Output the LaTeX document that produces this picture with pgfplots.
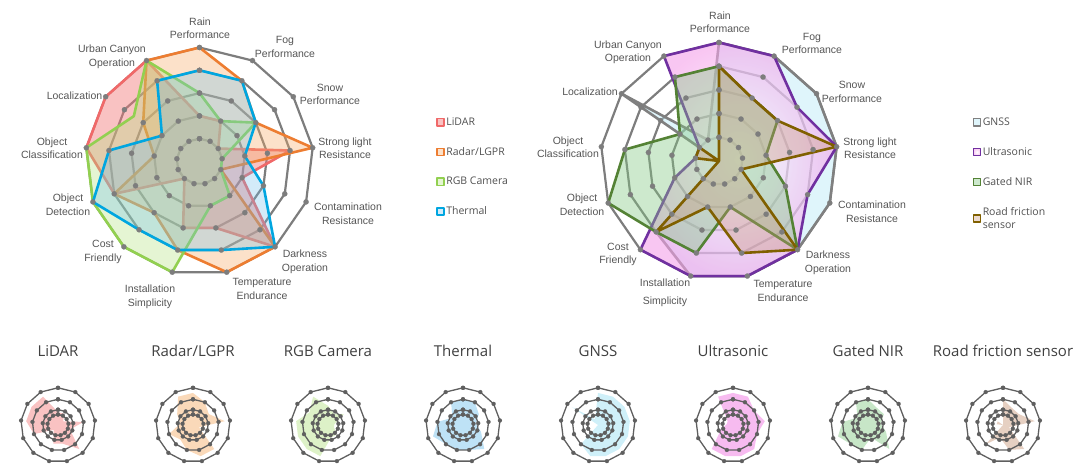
\documentclass[border=0pt]{standalone}
\usepackage{pgfplots}
\pgfplotsset{compat=1.18}
\usepackage{pgfplotstable}
\usepgfplotslibrary{polar}
\usepackage{fontspec}
\setmainfont{Liberation Sans}
\newfontfamily\legfont{Open Sans}

\definecolor{gridgray}{RGB}{125,125,125}
\definecolor{ringdark}{RGB}{95,95,95}
\definecolor{labgray}{RGB}{85,85,85}
\definecolor{leggray}{RGB}{80,80,80}
\definecolor{titgray}{RGB}{64,64,64}
\definecolor{lidarc}{RGB}{240,105,105}
\definecolor{lidarf}{RGB}{242,120,120}
\definecolor{radarc}{RGB}{237,125,49}
\definecolor{radarf}{RGB}{245,170,100}
\definecolor{rgbc}{RGB}{146,208,80}
\definecolor{rgbf}{RGB}{180,225,130}
\definecolor{thermc}{RGB}{0,166,224}
\definecolor{thermf}{RGB}{110,190,235}
\definecolor{gnssc}{RGB}{128,128,128}
\definecolor{gnssf}{RGB}{175,230,245}
\definecolor{ultrac}{RGB}{112,48,160}
\definecolor{ultraf}{RGB}{240,120,225}
\definecolor{nirc}{RGB}{84,130,53}
\definecolor{nirf}{RGB}{130,200,130}
\definecolor{roadc}{RGB}{128,96,0}
\definecolor{roadf}{RGB}{200,150,120}

% angle (deg) of each of the 13 criteria, clockwise from Rain; last row closes the polygon
\pgfplotstableread{
a        lidar radar rgb thermal gnss ultra nir road
90       2     5     3   4       5    5     4   4
62.3077  2     4     2   4       5    5     3   3
34.6154  1     3     3   3       5    4     3   3
6.9231   4     5     1   2       5    5     2   5
-20.7692 2     1     1   3       5    4     3   1
-48.4615 5     5     2   5       5    5     5   5
-76.1538 3     5     2   4       5    5     2   4
-103.8462 3    4     5   4       5    5     4   2
-131.5385 1    3     5   4       4    5     4   4
-159.2308 4    4     5   5       0    2     5   0
-186.9231 5    2     5   4       0    1     4   1
-214.6154 5    3     3.5 2       5    1     2   1
-242.3077 5    5     5   4       1    5     4   0
-270     2     5     3   4       5    5     4   4
}\sensordata

\pgfplotstableread{
a        r1 r2 r3 r4 r5 s1   s2   s3   s4
90       1  2  3  4  5  1.64 2.39 4.01 5.8
62.3077  1  2  3  4  5  1.64 2.39 4.01 5.8
34.6154  1  2  3  4  5  1.64 2.39 4.01 5.8
6.9231   1  2  3  4  5  1.64 2.39 4.01 5.8
-20.7692 1  2  3  4  5  1.64 2.39 4.01 5.8
-48.4615 1  2  3  4  5  1.64 2.39 4.01 5.8
-76.1538 1  2  3  4  5  1.64 2.39 4.01 5.8
-103.8462 1 2  3  4  5  1.64 2.39 4.01 5.8
-131.5385 1 2  3  4  5  1.64 2.39 4.01 5.8
-159.2308 1 2  3  4  5  1.64 2.39 4.01 5.8
-186.9231 1 2  3  4  5  1.64 2.39 4.01 5.8
-214.6154 1 2  3  4  5  1.64 2.39 4.01 5.8
-242.3077 1 2  3  4  5  1.64 2.39 4.01 5.8
-270     1  2  3  4  5  1.64 2.39 4.01 5.8
}\rings

\pgfplotsset{
  bigring/.style={draw=gridgray, line width=2.2pt, line join=round, mark=*, mark size=2.6pt,
    mark options={fill=gridgray, draw=gridgray, line width=0.2pt}, forget plot},
  smallring/.style={draw=ringdark, line width=1.3pt, line join=round, mark=*, mark size=2pt,
    mark options={fill=ringdark, draw=ringdark, line width=0.2pt}, forget plot},
  bigradar/.style={hide axis, clip=false, scale only axis, ymin=0, ymax=5, anchor=center},
  smallradar/.style={hide axis, clip=false, scale only axis, ymin=0, ymax=5.8, anchor=center,
    width=74.4pt, height=74.4pt,
    title style={font=\legfont\fontsize{15}{17}\selectfont, text=titgray, at={(0.5,1.30)}, anchor=center}},
  series/.style={line width=2.6pt, line join=round},
  sqlegend/.style={legend cell align=left,
    legend image code/.code={\draw[##1, line width=1.5pt] (0pt,-3.6pt) rectangle (7.2pt,3.6pt);},
    legend style={draw=none, fill=none, inner sep=0pt, row sep=17.5pt,
      font=\legfont\fontsize{10.5}{13}\selectfont, text=leggray,
      nodes={inner sep=1.5pt, align=left}}},
}

\tikzset{lab/.style={align=center, font=\fontsize{10.5}{13.5}\selectfont, text=labgray, inner sep=0pt}}

\begin{document}
\begin{tikzpicture}
\useasboundingbox (0pt,0pt) rectangle (1080pt,471pt);

% ---------------- left radar ----------------
\begin{polaraxis}[bigradar, at={(199.5pt,309.5pt)}, width=228pt, height=228pt, sqlegend,
  legend style={at={(1.537,0.70)}, anchor=north west}]
\addplot[bigring] table[x=a,y=r1]{\rings};
\addplot[bigring] table[x=a,y=r2]{\rings};
\addplot[bigring] table[x=a,y=r3]{\rings};
\addplot[bigring] table[x=a,y=r4]{\rings};
\addplot[bigring] table[x=a,y=r5]{\rings};
\addplot[series, draw=lidarc, fill=lidarf, fill opacity=0.45] table[x=a,y=lidar]{\sensordata};
\addlegendentry{LiDAR}
\addplot[series, draw=radarc, fill=radarf, fill opacity=0.35] table[x=a,y=radar]{\sensordata};
\addlegendentry{Radar/LGPR}
\addplot[series, draw=rgbc, fill=rgbf, fill opacity=0.35] table[x=a,y=rgb]{\sensordata};
\addlegendentry{RGB Camera}
\addplot[series, draw=thermc, fill=thermf, fill opacity=0.30] table[x=a,y=thermal]{\sensordata};
\addlegendentry{Thermal}
\end{polaraxis}

\node[lab] at (200pt,442.5pt) {Rain\\Performance};
\node[lab] at (285pt,424pt) {Fog\\Performance};
\node[lab] at (330pt,376.5pt) {Snow\\Performance};
\node[lab] at (345pt,322.5pt) {Strong light\\Resistance};
\node[lab] at (348pt,257pt) {Contamination\\Resistance};
\node[lab] at (305pt,209pt) {Darkness\\Operation};
\node[lab] at (262pt,182pt) {Temperature\\Endurance};
\node[lab] at (150pt,174pt) {Installation\\Simplicity};
\node[lab] at (103pt,219pt) {Cost\\Friendly};
\node[lab] at (68pt,266pt) {Object\\Detection};
\node[lab] at (52pt,322.5pt) {Object\\Classification};
\node[lab] at (74.5pt,375pt) {Localization};
\node[lab] at (112pt,414pt) {Urban Canyon\\Operation};

% ---------------- right radar ----------------
\begin{polaraxis}[bigradar, at={(719pt,310pt)}, width=237pt, height=237pt, sqlegend,
  legend style={at={(1.569,0.69)}, anchor=north west}]
\addplot[bigring] table[x=a,y=r1]{\rings};
\addplot[bigring] table[x=a,y=r2]{\rings};
\addplot[bigring] table[x=a,y=r3]{\rings};
\addplot[bigring] table[x=a,y=r4]{\rings};
\addplot[bigring] table[x=a,y=r5]{\rings};
\addplot[series, draw=gnssc, fill=gnssf, fill opacity=0.40] table[x=a,y=gnss]{\sensordata};
\addlegendentry{GNSS}
\addplot[series, draw=ultrac, shade, inner color=white, outer color=ultraf!70, fill opacity=0.6] table[x=a,y=ultra]{\sensordata};
\addlegendentry{Ultrasonic}
\addplot[series, draw=nirc, fill=nirf, fill opacity=0.40] table[x=a,y=nir]{\sensordata};
\addlegendentry{Gated NIR}
\addplot[series, draw=roadc, fill=roadf, fill opacity=0.35] table[x=a,y=road]{\sensordata};
\addlegendentry{Road friction\\sensor}
\end{polaraxis}

\node[lab] at (720pt,448.5pt) {Rain\\Performance};
\node[lab] at (812pt,427.5pt) {Fog\\Performance};
\node[lab] at (852pt,379pt) {Snow\\Performance};
\node[lab] at (870pt,322.5pt) {Strong light\\Resistance};
\node[lab] at (872pt,259pt) {Contamination\\Resistance};
\node[lab] at (828pt,208pt) {Darkness\\Operation};
\node[lab] at (783pt,180pt) {Temperature\\Endurance};
\node[lab, font=\fontsize{10.5}{18}\selectfont] at (665pt,178.5pt) {Installation\\Simplicity};
\node[lab] at (618pt,216.5pt) {Cost\\Friendly};
\node[lab] at (582pt,266pt) {Object\\Detection};
\node[lab] at (568pt,323.5pt) {Object\\Classification};
\node[lab] at (590pt,379pt) {Localization};
\node[lab] at (628pt,418.5pt) {Urban Canyon\\Operation};

% ---------------- small radars ----------------
\begin{polaraxis}[smallradar, at={(58pt,46pt)}, title={LiDAR}]
\addplot[draw=none, fill=lidarf, fill opacity=0.45] table[x=a,y=lidar]{\sensordata};
\addplot[smallring] table[x=a,y=s1]{\rings};
\addplot[smallring] table[x=a,y=s2]{\rings};
\addplot[smallring] table[x=a,y=s3]{\rings};
\addplot[smallring] table[x=a,y=s4]{\rings};
\end{polaraxis}
\begin{polaraxis}[smallradar, at={(193pt,46pt)}, title={Radar/LGPR}]
\addplot[draw=none, fill=radarf, fill opacity=0.45] table[x=a,y=radar]{\sensordata};
\addplot[smallring] table[x=a,y=s1]{\rings};
\addplot[smallring] table[x=a,y=s2]{\rings};
\addplot[smallring] table[x=a,y=s3]{\rings};
\addplot[smallring] table[x=a,y=s4]{\rings};
\end{polaraxis}
\begin{polaraxis}[smallradar, at={(328pt,46pt)}, title={RGB Camera}]
\addplot[draw=none, fill=rgbf, fill opacity=0.45] table[x=a,y=rgb]{\sensordata};
\addplot[smallring] table[x=a,y=s1]{\rings};
\addplot[smallring] table[x=a,y=s2]{\rings};
\addplot[smallring] table[x=a,y=s3]{\rings};
\addplot[smallring] table[x=a,y=s4]{\rings};
\end{polaraxis}
\begin{polaraxis}[smallradar, at={(463pt,46pt)}, title={Thermal}]
\addplot[draw=none, fill=thermf, fill opacity=0.45] table[x=a,y=thermal]{\sensordata};
\addplot[smallring] table[x=a,y=s1]{\rings};
\addplot[smallring] table[x=a,y=s2]{\rings};
\addplot[smallring] table[x=a,y=s3]{\rings};
\addplot[smallring] table[x=a,y=s4]{\rings};
\end{polaraxis}
\begin{polaraxis}[smallradar, at={(598pt,46pt)}, title={GNSS}]
\addplot[draw=none, fill=gnssf, fill opacity=0.6] table[x=a,y=gnss]{\sensordata};
\addplot[smallring] table[x=a,y=s1]{\rings};
\addplot[smallring] table[x=a,y=s2]{\rings};
\addplot[smallring] table[x=a,y=s3]{\rings};
\addplot[smallring] table[x=a,y=s4]{\rings};
\end{polaraxis}
\begin{polaraxis}[smallradar, at={(733pt,46pt)}, title={Ultrasonic}]
\addplot[draw=none, fill=ultraf, fill opacity=0.5] table[x=a,y=ultra]{\sensordata};
\addplot[smallring] table[x=a,y=s1]{\rings};
\addplot[smallring] table[x=a,y=s2]{\rings};
\addplot[smallring] table[x=a,y=s3]{\rings};
\addplot[smallring] table[x=a,y=s4]{\rings};
\end{polaraxis}
\begin{polaraxis}[smallradar, at={(868pt,46pt)}, title={Gated NIR}]
\addplot[draw=none, fill=nirf, fill opacity=0.45] table[x=a,y=nir]{\sensordata};
\addplot[smallring] table[x=a,y=s1]{\rings};
\addplot[smallring] table[x=a,y=s2]{\rings};
\addplot[smallring] table[x=a,y=s3]{\rings};
\addplot[smallring] table[x=a,y=s4]{\rings};
\end{polaraxis}
\begin{polaraxis}[smallradar, at={(1003pt,46pt)}, title={Road friction sensor}]
\addplot[draw=none, fill=roadf, fill opacity=0.45] table[x=a,y=road]{\sensordata};
\addplot[smallring] table[x=a,y=s1]{\rings};
\addplot[smallring] table[x=a,y=s2]{\rings};
\addplot[smallring] table[x=a,y=s3]{\rings};
\addplot[smallring] table[x=a,y=s4]{\rings};
\end{polaraxis}
\end{tikzpicture}
\end{document}
